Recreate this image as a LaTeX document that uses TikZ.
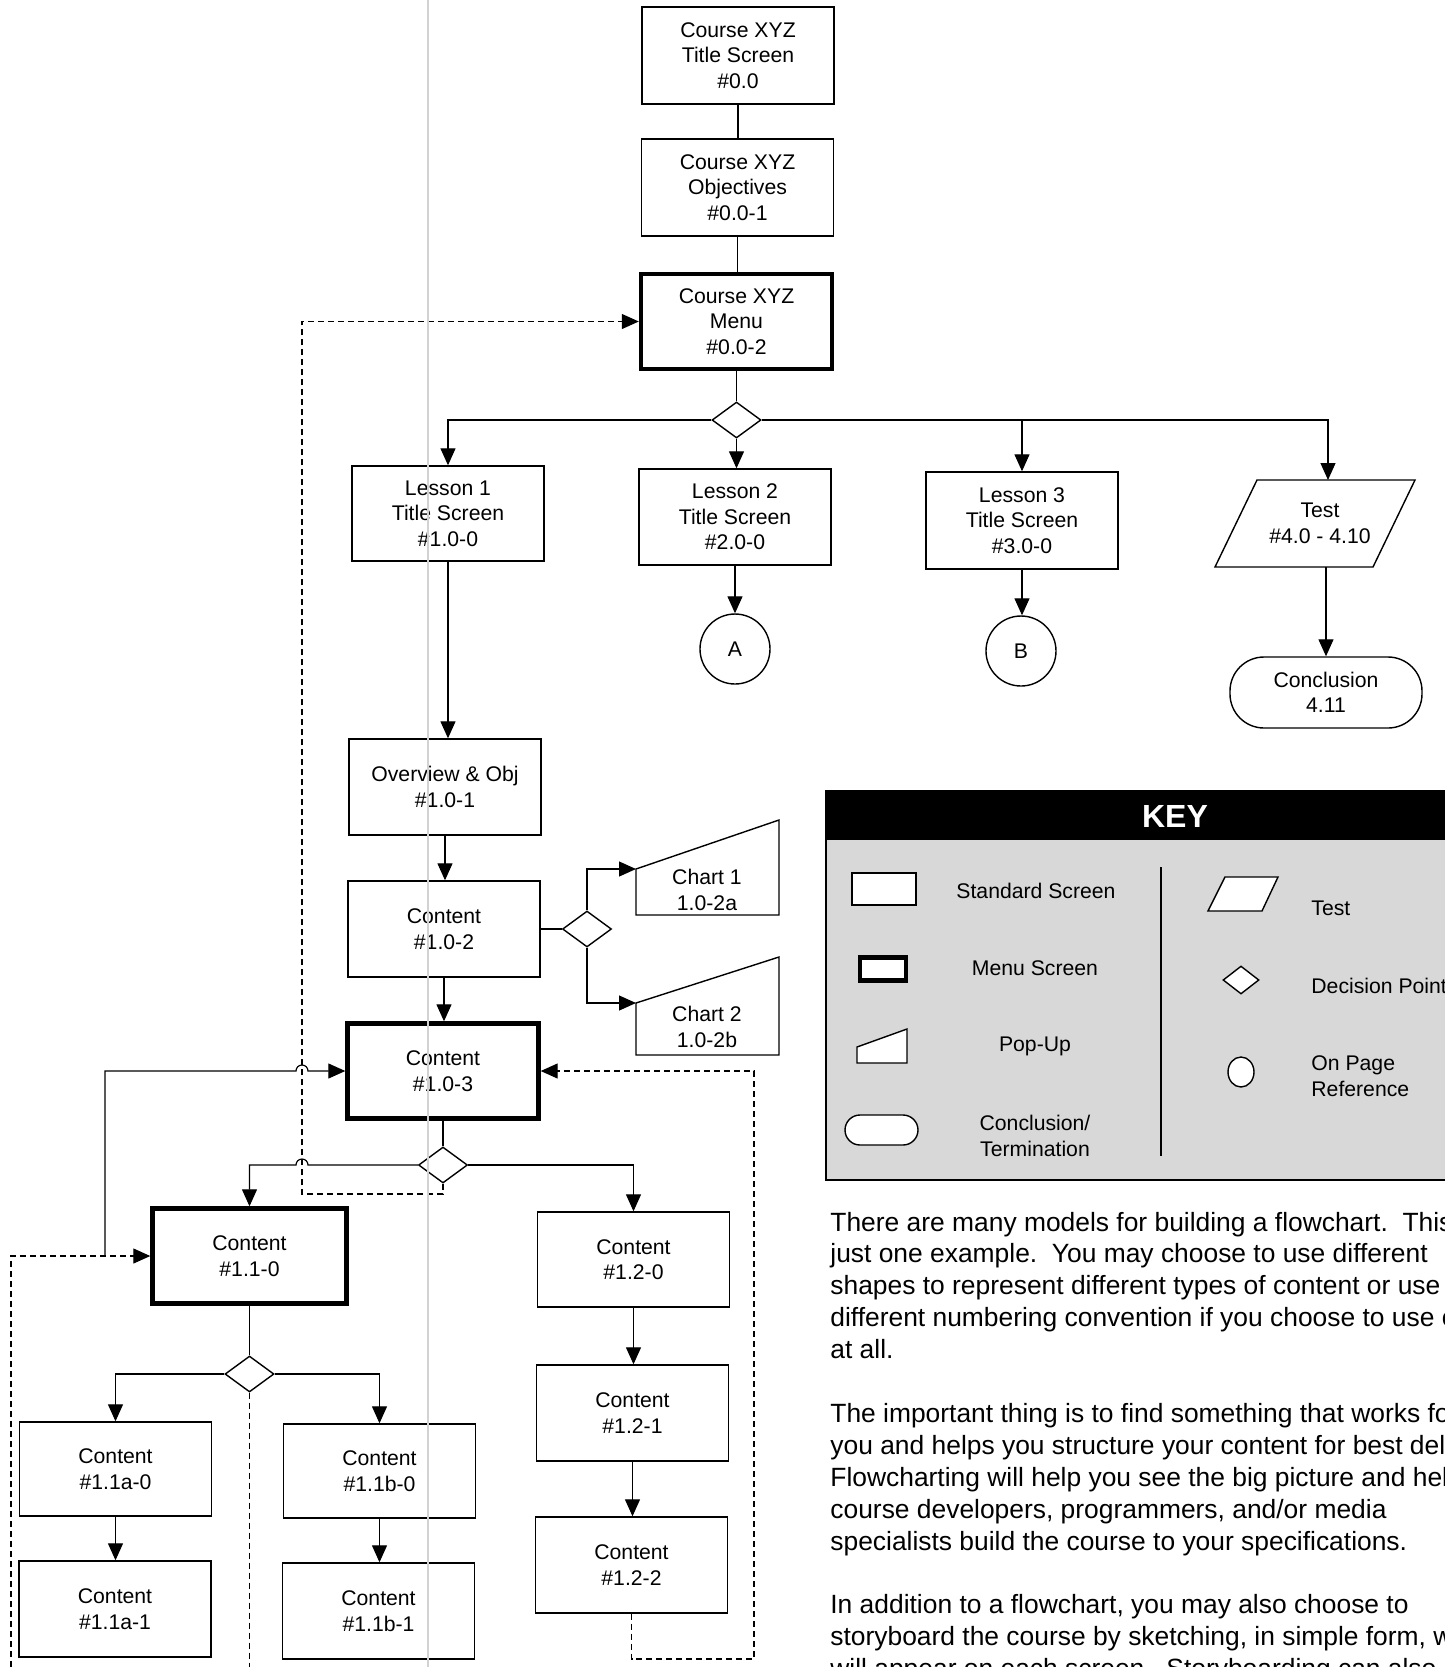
\documentclass[tikz,border=0pt]{standalone}
\usepackage{fontspec}
\setmainfont{Liberation Sans}
\usetikzlibrary{arrows.meta,shapes.geometric}
\definecolor{keybg}{RGB}{216,216,216}
\newcommand\bxf{\fontsize{10.6pt}{12.75pt}\selectfont}
\newcommand\prf{\fontsize{13.2pt}{15.95pt}\selectfont}
\begin{document}
\begin{tikzpicture}[x=0.5pt,y=-0.5pt,
  box/.style={draw,line width=0.7pt,fill=white,align=center,font=\bxf,inner sep=0pt,minimum width=96pt,minimum height=48pt},
  mbox/.style={box,line width=2.2pt,minimum width=95.5pt,minimum height=47.5pt},
  dia/.style={diamond,draw,line width=0.7pt,fill=white,minimum width=24.5pt,minimum height=18pt,inner sep=0pt},
  circ/.style={circle,draw,line width=0.7pt,fill=white,minimum size=35pt,inner sep=0pt,font=\bxf},
  lbl/.style={align=center,font=\bxf,inner sep=0pt},
  shp/.style={draw,line width=0.7pt,fill=white},
  conn/.style={line width=0.6pt},
  arr/.style={conn,-{Triangle[length=8.5pt,width=7.5pt]}},
  dashconn/.style={conn,dash pattern=on 3pt off 2pt},
  dasharr/.style={dashconn,-{Triangle[length=8.5pt,width=7.5pt]}},
  para/.style={anchor=base west,font=\prf,inner sep=0pt}
]
\useasboundingbox (0,0) rectangle (1445,1667);
\fill[white] (0,0) rectangle (1445,1667);

% ---------- top column ----------
\node[box,minimum height=48.5pt] (t00) at (738,55.5) {Course XYZ\\Title Screen\\\#0.0};
\node[box,minimum height=48.5pt] (t01) at (737.5,187.5) {Course XYZ\\Objectives\\\#0.0-1};
\node[mbox] (t02) at (736.5,321.5) {Course XYZ\\Menu\\\#0.0-2};
\node[dia] (d1) at (736.5,420) {};

\node[box,minimum height=47.5pt] (L1) at (448,513.5) {Lesson 1\\Title Screen\\\#1.0-0};
\node[box] (L2) at (735,517) {Lesson 2\\Title Screen\\\#2.0-0};
\node[box,minimum height=48.5pt] (L3) at (1022,520.5) {Lesson 3\\Title Screen\\\#3.0-0};

% test parallelogram
\draw[shp] (1257,480) -- (1415,480) -- (1373,567) -- (1215,567) -- cycle;
\node[lbl] (test) at (1320,523.5) {Test\\\#4.0 - 4.10};
\coordinate (testtop) at (1328,480);
\coordinate (testbot) at (1326,567);

\node[draw,line width=0.7pt,fill=white,rounded corners=17pt,minimum width=96pt,minimum height=35.5pt,align=center,font=\bxf,inner sep=0pt] (concl) at (1326,692.5) {Conclusion\\4.11};

\node[circ] (A) at (735,649) {A};
\node[circ] (B) at (1021,651) {B};

% ---------- lesson 1 column ----------
\node[box] (Ov) at (445,787) {Overview \& Obj\\\#1.0-1};
\node[box] (C102) at (444,929) {Content\\\#1.0-2};
\node[dia] (d2) at (587,929) {};

\draw[shp] (636,915) -- (636,869) -- (779,820) -- (779,915) -- cycle;
\node[lbl] (ch1) at (707,890) {Chart 1\\1.0-2a};
\coordinate (ch1in) at (636,869);
\draw[shp] (636,1055) -- (636,1003) -- (779,957) -- (779,1055) -- cycle;
\node[lbl] (ch2) at (707,1027) {Chart 2\\1.0-2b};
\coordinate (ch2in) at (636,1003);

\node[mbox,minimum height=47.5pt] (C103) at (443,1071) {Content\\\#1.0-3};
\node[dia] (d3) at (443,1165) {};

\node[mbox,minimum width=97pt] (C110) at (249.5,1256) {Content\\\#1.1-0};
\node[box,minimum height=47.5pt] (C120) at (633.5,1259.5) {Content\\\#1.2-0};
\node[dia] (d4) at (249.5,1374) {};

\node[box,minimum height=47pt] (C11a0) at (115.5,1469) {Content\\\#1.1a-0};
\node[box,minimum height=47pt] (C11b0) at (379.5,1471) {Content\\\#1.1b-0};
\node[box] (C121) at (632.5,1413) {Content\\\#1.2-1};
\node[box] (C11a1) at (115,1609) {Content\\\#1.1a-1};
\node[box] (C11b1) at (378.5,1611) {Content\\\#1.1b-1};
\node[box] (C122) at (631.5,1565) {Content\\\#1.2-2};

% ---------- connectors ----------
\draw[conn] (t00.south) -- (t00.south |- t01.north);
\draw[conn] (t01.south) -- (t01.south |- t02.north);
\draw[conn] (t02.south) -- (t02.south |- d1.north);
\draw[arr] (d1.west) -| (L1.north);
\draw[arr] (d1.south) -- (d1.south |- L2.north);
\draw[arr] (d1.east) -| (testtop);
\draw[arr] (L3.north |- d1.east) -- (L3.north);
\draw[arr] (L2.south) -- (L2.south |- A.north);
\draw[arr] (L3.south) -- (L3.south |- B.north);
\draw[arr] (testbot) -- (concl.north);

\draw[arr] (L1.south) -- (L1.south |- Ov.north);
\draw[arr] (Ov.south) -- (Ov.south |- C102.north);
\draw[conn] (C102.east) -- (d2.west);
\draw[arr] (d2.north) |- (ch1in);
\draw[arr] (d2.south) |- (ch2in);
\draw[arr] (C102.south) -- (C102.south |- C103.north);
\draw[conn] (C103.south) -- (d3.north);

\draw[arr] (d3.west) -- (308,1165) arc[start angle=0,end angle=180,radius=3pt] -- (C110.north |- d3.west) -- (C110.north);
\draw[arr] (d3.east) -| (C120.north);
\draw[dasharr] (d3.south) |- (302,1194) |- (t02.west);

\coordinate (jn) at (105,1256);
\coordinate (lbot) at (11,1667);
\draw[dasharr] (lbot) |- (C110.west);
\draw[arr] (jn) -- (105,1071) -- (296,1071) arc[start angle=180,end angle=0,radius=3pt] -- (C103.west);

\draw[conn] (C110.south) -- (d4.north);
\draw[arr] (d4.west) -| (C11a0.north);
\draw[arr] (d4.east) -| (C11b0.north);
\draw[dashconn] (d4.south) -- (d4.south |- lbot);

\draw[arr] (C11a0.south) -- (C11a0.south |- C11a1.north);
\draw[arr] (C11b0.south) -- (C11b0.south |- C11b1.north);
\draw[arr] (C120.south) -- (C120.south |- C121.north);
\draw[arr] (C121.south) -- (C121.south |- C122.north);
\draw[dasharr] (C122.south) |- (754,1659) |- (C103.east);

% ---------- key ----------
\fill[keybg] (826,790) rectangle (1445,1180);
\fill[black] (826,790) rectangle (1445,840);
\draw[line width=0.8pt] (1445,1180) -- (826,1180) -- (826,790);
\node[font=\bfseries\fontsize{16pt}{18pt}\selectfont,text=white,inner sep=0pt] (keyt) at (1175,816) {KEY};
\draw[line width=0.7pt] (1161,867) -- (1161,1156);

\node[draw,fill=white,line width=0.7pt,minimum width=32pt,minimum height=16pt,inner sep=0pt] (kstd) at (884,889) {};
\node[lbl] (kstdl) at (1036,891) {Standard Screen};
\node[draw,fill=white,line width=2.2pt,minimum width=23pt,minimum height=11.5pt,inner sep=0pt] (kmenu) at (883,969) {};
\node[lbl] (kmenul) at (1035,968) {Menu Screen};
\draw[shp] (857,1063) -- (857,1047) -- (907,1029) -- (907,1063) -- cycle;
\node[lbl] (kpopl) at (1035,1046) {Pop-Up};
\node[draw,fill=white,line width=0.7pt,rounded corners=7.5pt,minimum width=36.5pt,minimum height=15pt,inner sep=0pt] (kconc) at (881.5,1130) {};
\node[lbl] (kconcl) at (1035,1136) {Conclusion/\\Termination};

\draw[shp] (1225,877) -- (1278,877) -- (1262,911) -- (1208,911) -- cycle;
\node[lbl,anchor=west] (ktestl) at (1311,908) {Test};
\node[dia,minimum width=18pt,minimum height=14pt] (kdec) at (1241,980) {};
\node[lbl,anchor=west] (kdecl) at (1311,986) {Decision Point};
\node[draw,fill=white,line width=0.7pt,ellipse,minimum width=13pt,minimum height=15pt,inner sep=0pt] (kcirc) at (1241,1072) {};
\node[lbl,anchor=west,align=left] (kcircl) at (1311,1076) {On Page\\Reference};

% ---------- paragraphs ----------
\node[para] (p1) at (830,1231) {There are many models for building a flowchart.\ \ This is};
\node[para] (p2) at (830,1262.9) {just one example.\ \ You may choose to use different};
\node[para] (p3) at (830,1294.8) {shapes to represent different types of content or use a};
\node[para] (p4) at (830,1326.7) {different numbering convention if you choose to use one};
\node[para] (p5) at (830,1358.6) {at all.};
\node[para] (p6) at (830,1422.4) {The important thing is to find something that works for};
\node[para] (p7) at (830,1454.3) {you and helps you structure your content for best delivery.};
\node[para] (p8) at (830,1486.2) {Flowcharting will help you see the big picture and help};
\node[para] (p9) at (830,1518.1) {course developers, programmers, and/or media};
\node[para] (p10) at (830,1550) {specialists build the course to your specifications.};
\node[para] (p11) at (830,1613.8) {In addition to a flowchart, you may also choose to};
\node[para] (p12) at (830,1645.7) {storyboard the course by sketching, in simple form, what};
\node[para] (p13) at (830,1677.6) {will appear on each screen.\ \ Storyboarding can also};

% faint fold line of the scanned page
\draw[gray!35,line width=0.6pt] (428,0) -- (428,1667);
\end{tikzpicture}
\end{document}
